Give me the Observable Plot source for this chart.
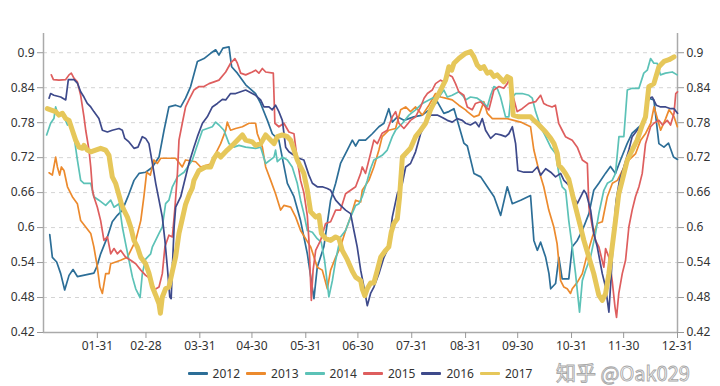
<!DOCTYPE html>
<html><head><meta charset="utf-8">
<script src="https://cdn.jsdelivr.net/npm/d3@7"></script>
<script src="https://cdn.jsdelivr.net/npm/@observablehq/plot@0.6"></script>
<style>
body{margin:0;background:#fff;width:720px;height:386px;overflow:hidden;font-family:"Noto Sans",sans-serif;position:relative}
#legend{height:28px;display:flex;justify-content:center;align-items:center;gap:6px;font-size:12px;color:#333;padding-top:2px;box-sizing:border-box}
.item{display:flex;align-items:center}
.sw{width:20px;height:3px;margin-right:5px;border-radius:1px}
#wm{position:absolute;left:556px;top:362px;line-height:22px;font-family:"Noto Sans CJK SC","Noto Sans",sans-serif;font-size:20px;color:#fff;-webkit-text-stroke:0.9px #a8a8a8;white-space:nowrap}
</style></head>
<body>
<div id="chart"></div>
<div id="legend"></div>
<div id="wm">知乎 @Oak029</div>
<script>
const xTicks = [31,59,90,120,151,181,212,243,273,304,334,365];
const xLabels = ["01-31","02-28","03-31","04-30","05-31","06-30","07-31","08-31","09-30","10-31","11-30","12-31"];
const yTicks = [0.42,0.48,0.54,0.6,0.66,0.72,0.78,0.84,0.9];
const years = ["2012","2013","2014","2015","2016","2017"];
const colors = ["#2c6e97","#ec8a2d","#5cc2b7","#de5e5e","#3e4a8b","#e6c75a"];

const s2012 = [[3.6,.588],[5.1,.549],[7.6,.541],[9.9,.521],[12.2,.493],[14.7,.518],[17,.528],[19.5,.516],[29,.522],[30.6,.532],[32.9,.555],[36.8,.584],[39.6,.61],[42.5,.621],[45.4,.63],[48.6,.653],[52.1,.681],[55,.693],[58.8,.695],[62.5,.703],[66.5,.721],[69.4,.767],[72.2,.807],[76.1,.81],[79,.807],[81.8,.822],[84.7,.842],[88.6,.885],[92.4,.89],[96.2,.899],[99.1,.905],[101,.896],[103.3,.908],[106.8,.91],[108.3,.876],[111.6,.865],[116.4,.845],[122.1,.83],[125,.813],[128.9,.784],[131.7,.761],[135.5,.75],[140.4,.676],[144.2,.653],[148,.612],[151.9,.555],[155.7,.478],[157.6,.532],[161.4,.567],[165.3,.647],[168.2,.676],[171,.71],[174.9,.733],[177.8,.75],[179.7,.74],[181.6,.75],[185.4,.75],[189.3,.761],[193.1,.773],[196,.779],[198.8,.804],[200.8,.781],[203.7,.79],[207.5,.784],[213.2,.79],[218.1,.793],[221.9,.802],[226.7,.816],[230.5,.796],[233.4,.799],[236.3,.804],[239.1,.775],[242,.745],[244,.74],[247.8,.693],[251.7,.687],[255.5,.67],[259.4,.653],[263.2,.621],[267,.67],[269.9,.641],[274.7,.647],[280.4,.655],[282.3,.578],[284.3,.561],[286.2,.575],[289.1,.549],[291,.521],[292,.495],[294.8,.504],[296.7,.549],[298.6,.512],[302.4,.512],[304.4,.567],[307.3,.578],[310.2,.595],[314,.624],[316.8,.664],[319.7,.676],[323.5,.693],[326.4,.705],[329.3,.693],[332.2,.716],[336,.744],[338.9,.762],[341.8,.77],[345.6,.779],[348.5,.822],[351.4,.819],[354.3,.744],[357.2,.738],[359.8,.745],[362.7,.721],[365,.717]];

const s2013 = [[3.2,.694],[5.1,.69],[7,.721],[8,.704],[9.3,.69],[10.3,.704],[11.8,.698],[13.8,.67],[16.6,.653],[19.5,.641],[21.4,.612],[24.3,.601],[27.2,.59],[29,.567],[31,.532],[32.5,.498],[33.9,.487],[35.8,.521],[37.7,.521],[38.7,.538],[44.4,.544],[48.3,.549],[53.1,.578],[56,.612],[57.8,.653],[59.4,.695],[61.5,.69],[63.6,.716],[65.5,.71],[67.5,.719],[72.2,.719],[76.1,.719],[79.9,.704],[81.8,.716],[87.6,.713],[90.5,.704],[97.2,.71],[99.1,.727],[102,.744],[104.9,.767],[105.8,.781],[107.7,.767],[110.6,.77],[114.5,.773],[118.3,.779],[122.1,.779],[123.1,.761],[126,.738],[127.9,.704],[130.8,.681],[133.6,.658],[136.5,.63],[138.4,.638],[142.3,.635],[145.2,.618],[148,.595],[150.9,.581],[153.8,.567],[157.6,.532],[160.5,.527],[163.4,.495],[165.3,.527],[168.2,.549],[171,.567],[173.9,.595],[176.8,.618],[179.7,.647],[182.6,.644],[183.5,.664],[187.3,.681],[190.2,.704],[193.1,.733],[195,.756],[198.8,.767],[202.7,.77],[205.6,.802],[208.5,.807],[211.3,.799],[214.2,.807],[218.1,.793],[221.9,.81],[225.7,.83],[228.6,.824],[231.5,.822],[235.3,.819],[239.1,.81],[243,.802],[244,.799],[247.8,.79],[250.7,.793],[253.5,.816],[255.5,.796],[258.4,.787],[262.2,.787],[267,.787],[270.8,.784],[274.7,.781],[280.4,.773],[282.3,.733],[285.2,.698],[288,.67],[290.9,.63],[293.8,.601],[295.7,.572],[297.7,.509],[299.6,.498],[301.5,.495],[303.4,.487],[304.4,.495],[307.3,.506],[310.2,.521],[313.1,.555],[316,.584],[318.8,.607],[321.7,.61],[324.6,.653],[327.5,.676],[330.4,.681],[333.3,.698],[337.1,.716],[340.9,.727],[343.8,.75],[346.7,.762],[349.6,.779],[351.5,.807],[353.4,.787],[355.3,.767],[358.2,.787],[360.1,.802],[363,.79],[364.9,.773]];

const s2014 = [[1.8,.759],[4.1,.779],[6,.787],[7,.807],[8.4,.793],[9.9,.796],[11.8,.79],[13.8,.776],[15.3,.781],[17.6,.756],[19.5,.716],[21.4,.681],[23.3,.676],[27.2,.676],[29,.653],[31.9,.647],[35.8,.638],[38.7,.647],[40.6,.635],[43.5,.641],[45.4,.601],[47.3,.572],[49.2,.544],[51.2,.515],[53.1,.495],[55.6,.48],[56.9,.521],[58.8,.546],[61.7,.555],[62.7,.567],[66.5,.59],[68.4,.601],[70.3,.641],[72.2,.647],[74.2,.67],[77.1,.687],[80.9,.695],[85.7,.716],[87.6,.733],[89.5,.75],[91.5,.767],[94.3,.77],[97.2,.773],[99.1,.781],[101,.776],[103.9,.767],[106.8,.744],[109.6,.738],[112.5,.741],[116.4,.738],[122.1,.736],[125,.738],[127.9,.71],[132.7,.721],[133.6,.733],[134.6,.713],[137.5,.721],[140.4,.716],[143.2,.704],[146.1,.676],[148,.647],[149.9,.624],[151.9,.595],[154.8,.592],[157.6,.581],[159.9,.575],[161.8,.544],[164.3,.481],[166.3,.509],[168.2,.544],[171,.584],[173.9,.595],[176.8,.618],[179.7,.638],[181.6,.641],[183.5,.653],[186.4,.681],[188.3,.701],[190.2,.716],[195,.724],[197.9,.733],[200.8,.756],[202.7,.767],[206.6,.779],[210.4,.793],[214.2,.802],[218.1,.813],[223.8,.822],[227.7,.824],[230.5,.836],[232.5,.824],[235.3,.827],[239.1,.833],[242,.824],[243,.819],[245.8,.824],[249.7,.822],[252.6,.816],[255.5,.807],[257.4,.827],[259.3,.842],[261.2,.839],[263.1,.824],[266,.79],[267.9,.79],[268.9,.819],[271.8,.83],[275.6,.83],[279.4,.827],[281.4,.822],[283.3,.799],[286.2,.773],[289.1,.756],[292,.738],[294.8,.727],[296.7,.693],[298.6,.67],[300.6,.664],[302.4,.612],[304.4,.567],[306.3,.521],[308.6,.455],[310.2,.509],[312,.526],[314.9,.549],[317.8,.59],[319.7,.624],[322.6,.664],[324.6,.676],[327.4,.681],[329.3,.693],[331.3,.756],[334.1,.756],[336.1,.836],[338.9,.839],[342.8,.839],[345.6,.865],[347.6,.87],[349.5,.89],[351.4,.882],[353.3,.882],[355.2,.862],[358.1,.865],[362,.867],[364.8,.862]];

const s2015 = [[4.5,.862],[5.7,.854],[8.9,.853],[12.8,.854],[14.7,.862],[16,.865],[17.6,.856],[19.5,.85],[21.4,.827],[23.3,.79],[24.3,.767],[26.2,.733],[27.2,.704],[28.2,.664],[29,.653],[31,.635],[32.9,.612],[34.8,.578],[36.8,.584],[38.7,.555],[40.6,.564],[42.5,.555],[44.4,.561],[47.3,.549],[50.2,.544],[53.1,.538],[56,.527],[58.8,.518],[61.7,.512],[63.6,.493],[66.5,.498],[68.4,.521],[69.9,.567],[72.2,.587],[74.2,.584],[75.7,.635],[77.1,.693],[78,.75],[79.9,.779],[81.8,.807],[83.7,.819],[86.6,.836],[89.5,.842],[92.4,.842],[95.3,.847],[98.2,.85],[101,.853],[104.9,.867],[107.7,.882],[110.2,.89],[111.6,.882],[113.5,.865],[116.4,.862],[120.2,.867],[122.1,.87],[124,.865],[126,.873],[127.9,.867],[132.3,.865],[133.2,.779],[135.5,.773],[138.4,.779],[141.3,.764],[144.2,.761],[146.1,.716],[148,.681],[149.9,.66],[151.9,.62],[152.8,.578],[154.2,.475],[155.2,.527],[156.7,.561],[159.5,.578],[162.4,.607],[165.3,.61],[168.2,.63],[171,.63],[173.9,.658],[176.8,.664],[179.7,.67],[182.6,.693],[183.5,.704],[185.4,.693],[188.3,.727],[190.2,.75],[192.2,.744],[195,.762],[197.9,.767],[200.8,.79],[202.7,.799],[204.6,.779],[207.5,.77],[211.3,.784],[214.2,.79],[217.1,.807],[219.1,.822],[221,.83],[223.8,.836],[225.7,.847],[228.6,.853],[230.5,.85],[233.4,.862],[235.3,.859],[237.2,.847],[239.1,.833],[242,.827],[244,.807],[246.8,.802],[248.7,.813],[251.6,.816],[254.5,.807],[256.4,.802],[259.3,.836],[262.2,.842],[265,.839],[267,.847],[267.9,.853],[272.7,.799],[275.6,.804],[279.4,.813],[283.3,.816],[286.2,.827],[288,.813],[289.9,.81],[292.8,.807],[294.7,.81],[296.6,.779],[298.6,.767],[300.5,.756],[302.4,.753],[304.4,.75],[307.3,.738],[310.2,.716],[313.1,.71],[314,.635],[316,.601],[317.8,.578],[319.7,.567],[322.6,.532],[323.6,.564],[325.5,.549],[327.4,.509],[329,.464],[329.9,.446],[331.2,.487],[333.2,.521],[335.1,.544],[337,.601],[338.9,.63],[340.8,.653],[342.8,.67],[344.7,.693],[346.6,.744],[349.5,.773],[351.4,.779],[354.3,.784],[356.4,.776],[359.1,.784],[361,.776],[363,.796],[364,.83],[365,.833]];

const s2016 = [[3.2,.822],[4.1,.83],[6,.827],[9.9,.824],[12.8,.819],[14.3,.854],[17.6,.854],[19.5,.848],[21.4,.833],[23.3,.824],[25.2,.813],[27.2,.807],[29,.799],[31.9,.787],[33.9,.767],[36.8,.764],[39.6,.767],[43.5,.77],[45.4,.767],[46.8,.753],[49.2,.747],[52.1,.736],[54.4,.738],[56.9,.756],[58.8,.753],[60.7,.744],[62.7,.71],[64.6,.676],[66.5,.647],[68.4,.618],[69.9,.578],[71.3,.532],[72.7,.481],[73.5,.478],[74.2,.532],[75.2,.601],[76.1,.635],[79,.653],[80.9,.676],[83.7,.71],[86.6,.738],[88.6,.756],[91.5,.779],[94.3,.79],[97.2,.807],[100.1,.813],[103,.82],[104.9,.819],[107.7,.83],[110.6,.83],[113.5,.833],[116.4,.836],[122.1,.827],[125,.819],[126.9,.807],[129.8,.807],[131.7,.802],[133.6,.81],[135.5,.799],[137.5,.784],[139.4,.738],[141.3,.73],[144.2,.724],[147,.719],[149.9,.716],[152.8,.69],[154.8,.676],[157.6,.67],[160.5,.67],[163.4,.667],[165.3,.664],[168.2,.647],[171,.638],[173.9,.63],[176.8,.624],[178.7,.595],[180.6,.567],[182.6,.527],[184.5,.498],[186.4,.466],[188.3,.487],[190.2,.498],[193.1,.521],[196,.549],[198.8,.567],[200.8,.618],[203.7,.658],[206.6,.676],[208.5,.704],[211.3,.71],[214.2,.73],[217.1,.761],[220,.779],[222.8,.793],[226.7,.793],[229.6,.789],[232.5,.784],[235.3,.781],[238.2,.787],[241.1,.784],[243,.779],[245.8,.776],[248.7,.781],[250.7,.773],[252.6,.787],[254.5,.767],[257.4,.753],[260.3,.761],[263.2,.759],[266,.756],[267.9,.761],[269.9,.773],[271.8,.744],[273.1,.698],[276.6,.695],[281.4,.695],[284.3,.704],[286.2,.69],[289.1,.701],[292,.695],[294.8,.687],[297.7,.693],[299.6,.681],[303.4,.67],[305.3,.653],[307.3,.641],[311.1,.664],[312.5,.658],[315,.63],[316.8,.59],[318.8,.567],[321.7,.521],[323.6,.498],[325.5,.455],[326.9,.521],[328.4,.601],[329.7,.647],[331.6,.681],[334.1,.704],[337,.733],[338.9,.756],[341.8,.767],[345.6,.779],[348.5,.822],[350.5,.824],[352.8,.81],[355.3,.807],[358.2,.807],[361.1,.804],[363,.804],[365,.796]];

const s2017 = [[2.2,.804],[4.1,.802],[7,.799],[8.9,.793],[10.9,.796],[12.8,.787],[14.7,.784],[16.6,.767],[18.5,.75],[20.4,.738],[22.4,.736],[23.3,.741],[25.2,.733],[27.2,.73],[30,.733],[32.9,.736],[35.8,.733],[37.7,.724],[38.7,.704],[39.6,.687],[41.5,.676],[43.5,.655],[44.8,.641],[46.3,.63],[48.3,.618],[50.2,.601],[52.1,.578],[54,.567],[56,.549],[58.8,.538],[60.7,.522],[62.7,.498],[64.6,.484],[66.5,.469],[67.3,.453],[68.4,.481],[70.3,.495],[72.2,.498],[74.2,.525],[76.1,.55],[78,.59],[79.9,.615],[81.8,.64],[83.7,.655],[85.7,.668],[86.6,.681],[89.5,.698],[93.3,.704],[96.2,.704],[98.2,.719],[100.1,.727],[102,.721],[103.9,.727],[105.8,.733],[108.7,.741],[111.6,.75],[114.5,.759],[116.4,.75],[120.2,.747],[122.1,.741],[125,.744],[127.9,.759],[130.8,.75],[132.7,.744],[134.6,.756],[137.5,.759],[140.4,.756],[142.3,.75],[144.2,.733],[146.1,.716],[148,.704],[149.9,.693],[151.9,.664],[153.8,.627],[156.7,.618],[158.6,.621],[160,.59],[162.4,.581],[165.3,.578],[168.2,.584],[170.1,.581],[172,.561],[174.9,.545],[177.8,.525],[179.7,.515],[182.6,.509],[183.5,.495],[185,.483],[186.4,.495],[188.3,.505],[190.2,.505],[192.2,.527],[194.1,.549],[197,.561],[198.8,.567],[200.2,.592],[201.7,.607],[203.7,.615],[205,.653],[206.6,.721],[208.5,.727],[211.3,.736],[214.2,.756],[217.1,.767],[220,.779],[222.8,.802],[225.7,.819],[228.6,.836],[231.5,.853],[233.4,.876],[235,.87],[236.3,.882],[239.1,.89],[243,.899],[245.9,.902],[247.8,.893],[249.7,.879],[251.6,.873],[253.5,.876],[255.5,.865],[257.4,.867],[259.3,.859],[261.2,.862],[263.1,.856],[265,.85],[267,.859],[268.9,.856],[270.4,.793],[273.7,.79],[277.5,.79],[280.4,.79],[282.3,.784],[284.3,.779],[286.2,.773],[289.1,.764],[292,.753],[293.9,.744],[295.8,.727],[296.7,.707],[298.6,.701],[300.5,.693],[302.4,.683],[304.4,.658],[306.3,.635],[309.2,.601],[311.1,.578],[314,.549],[316.8,.521],[319.7,.484],[321.7,.475],[323.6,.487],[325.5,.521],[327.4,.567],[329.3,.612],[331.2,.658],[333.2,.681],[336.1,.716],[338.9,.733],[341.8,.75],[344.7,.776],[346.6,.79],[348.5,.842],[351.4,.847],[354.3,.876],[357.2,.885],[360.1,.888],[363,.893]];

const seriesList = [s2012, s2013, s2014, s2015, s2016, s2017];
const fmtX = d => xLabels[xTicks.indexOf(d)];
const fmtY = d => String(d);

const lineMarks = seriesList.map((s, i) => Plot.line(s, {
  x: d => d[0], y: d => d[1], stroke: colors[i],
  strokeWidth: i === 5 ? 5 : 1.7, strokeLinejoin: "round", strokeLinecap: "round"
}));

const chart = Plot.plot({
  width: 720, height: 358,
  marginTop: 33, marginBottom: 26, marginLeft: 43, marginRight: 43,
  style: {fontFamily: "'Noto Sans', sans-serif", fontSize: "12px", background: "#fff", overflow: "visible"},
  x: {type: "linear", domain: [0, 365]},
  y: {domain: [0.42, 0.933]},
  marks: [
    Plot.gridY(yTicks.slice(1), {stroke: "#d4d4d4", strokeOpacity: 1, strokeDasharray: "4,4"}),
    Plot.ruleY([0.42], {stroke: "#aaa", strokeWidth: 1.5}),
    Plot.ruleX([0, 365], {stroke: "#aaa", strokeWidth: 1.5}),
    Plot.axisX(xTicks, {anchor: "bottom", tickFormat: fmtX, tickSize: 6, tickPadding: 3, stroke: "#999", fill: "#333", label: null}),
    Plot.axisY(yTicks, {anchor: "left", tickFormat: fmtY, tickSize: 6, tickPadding: 3, stroke: "#999", fill: "#333", label: null}),
    Plot.axisY(yTicks, {anchor: "right", tickFormat: fmtY, tickSize: 6, tickPadding: 3, stroke: "#999", fill: "#333", label: null}),
    ...lineMarks
  ]
});
document.getElementById("chart").appendChild(chart);

const legend = document.getElementById("legend");
years.forEach((y, i) => {
  const it = document.createElement("div");
  it.className = "item";
  const sw = document.createElement("span");
  sw.className = "sw";
  sw.style.background = colors[i];
  const t = document.createElement("span");
  t.textContent = y;
  it.appendChild(sw); it.appendChild(t);
  legend.appendChild(it);
});
</script>
</body></html>
